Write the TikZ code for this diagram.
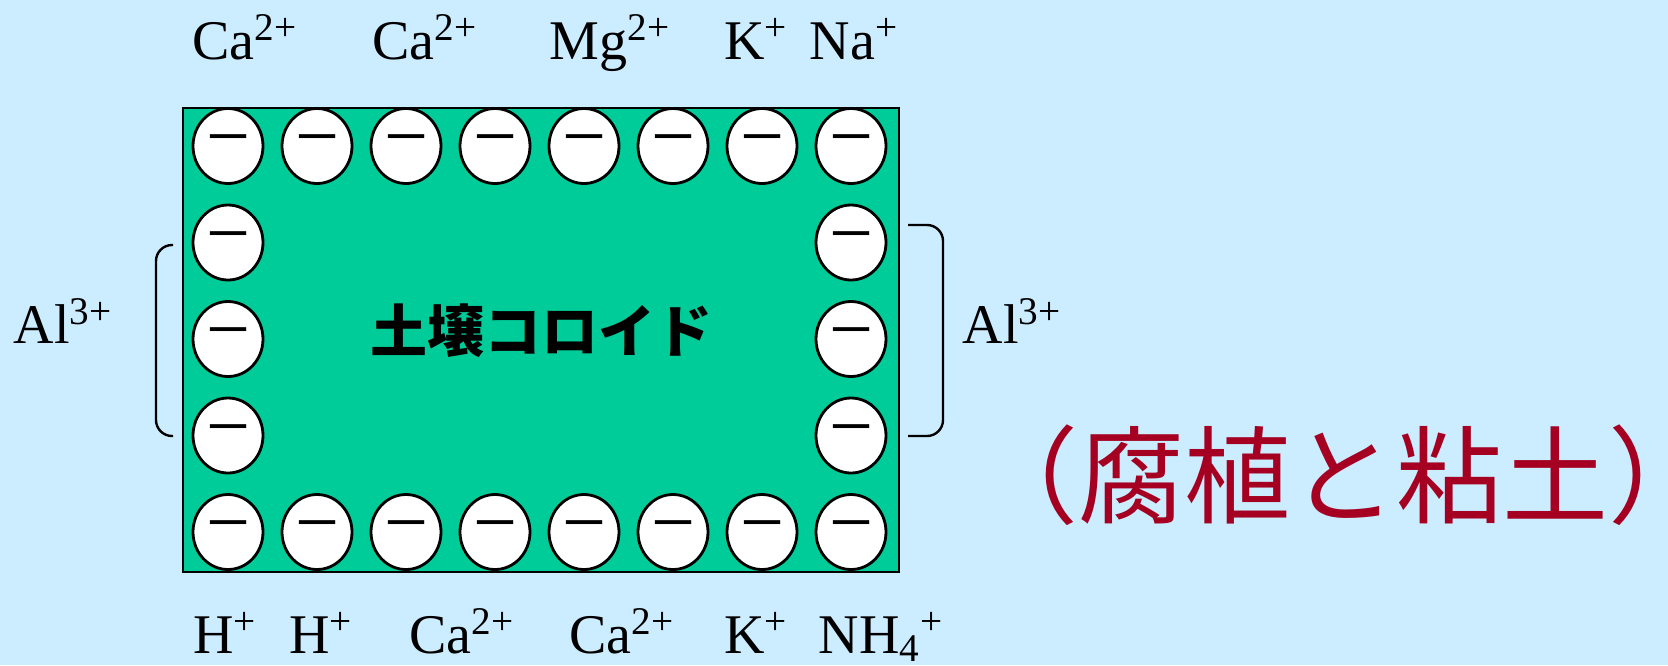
\documentclass[tikz,border=0pt]{standalone}
\usepackage{fontspec}
\setmainfont{Liberation Serif}
\newfontfamily\jpfont{Noto Sans CJK JP}
\usepackage{tikz}
\usetikzlibrary{matrix}
\usetikzlibrary{shapes.geometric}
\definecolor{skyback}{HTML}{CCECFF}
\definecolor{colloidgreen}{HTML}{00CC99}
\definecolor{humusred}{HTML}{A50021}

\begin{document}
\begin{tikzpicture}[x=0.5pt,y=-0.5pt,
	ion/.style={draw,ellipse,fill=white,line width=1.4pt,minimum width=35pt,minimum height=37.5pt,inner sep=0pt,outer sep=0pt,font=\fontsize{39}{39}\selectfont,text height=16.5pt,text depth=0pt},
	lbl/.style={anchor=base,inner sep=0pt,font=\fontsize{28}{32}\selectfont},
	bracket/.style={line width=1.2pt,rounded corners=8pt}]
	\fill[skyback] (0,0) rectangle (1668,665);
	\useasboundingbox (0,0) rectangle (1668,665);
	\draw[fill=colloidgreen,line width=1.2pt] (183,108) rectangle (899,572);
	\matrix[matrix of nodes,nodes={ion},row sep=9.35pt,column sep=8.1pt,ampersand replacement=\&] (ring) at (539.5,339)
	{
		|(t1)| − \& |(t2)| − \& |(t3)| − \& |(t4)| − \& |(t5)| − \& |(t6)| − \& |(t7)| − \& |(t8)| − \\
		|(l1)| − \& \& \& \& \& \& \& |(r1)| − \\
		|(l2)| − \& \& \& \& \& \& \& |(r2)| − \\
		|(l3)| − \& \& \& \& \& \& \& |(r3)| − \\
		|(b1)| − \& |(b2)| − \& |(b3)| − \& |(b4)| − \& |(b5)| − \& |(b6)| − \& |(b7)| − \& |(b8)| − \\
	};
	\node[lbl] (ca1) at (245,59) {Ca\textsuperscript{2+}};
	\node[lbl] (ca2) at (425,59) {Ca\textsuperscript{2+}};
	\node[lbl] (mg) at (610,59) {Mg\textsuperscript{2+}};
	\node[lbl] (k1) at (756,59) {K\textsuperscript{+}};
	\node[lbl] (na) at (854,59) {Na\textsuperscript{+}};
	\node[lbl] (h1) at (225,653) {H\textsuperscript{+}};
	\node[lbl] (h2) at (321,653) {H\textsuperscript{+}};
	\node[lbl] (ca3) at (462,653) {Ca\textsuperscript{2+}};
	\node[lbl] (ca4) at (622,653) {Ca\textsuperscript{2+}};
	\node[lbl] (k2) at (756,653) {K\textsuperscript{+}};
	\node[lbl] (nh4) at (881,653) {NH\textsubscript{4}\textsuperscript{+}};
	\node[lbl] (all) at (63,343) {Al\textsuperscript{3+}};
	\node[lbl] (alr) at (1012,343) {Al\textsuperscript{3+}};
	\draw[bracket] (173,245) -- (156,245) -- (156,436) -- (173,436);
	\draw[bracket] (908,225) -- (943,225) -- (943,436) -- (908,436);
	\node[font=\jpfont\bfseries\fontsize{28.5}{30}\selectfont] (colloid) at (541,331) {土壌コロイド};
	\node[text=humusred,font=\jpfont\fontsize{53}{56}\selectfont] (humus) at (1343,475) {（腐植と粘土）};
\end{tikzpicture}
\end{document}
